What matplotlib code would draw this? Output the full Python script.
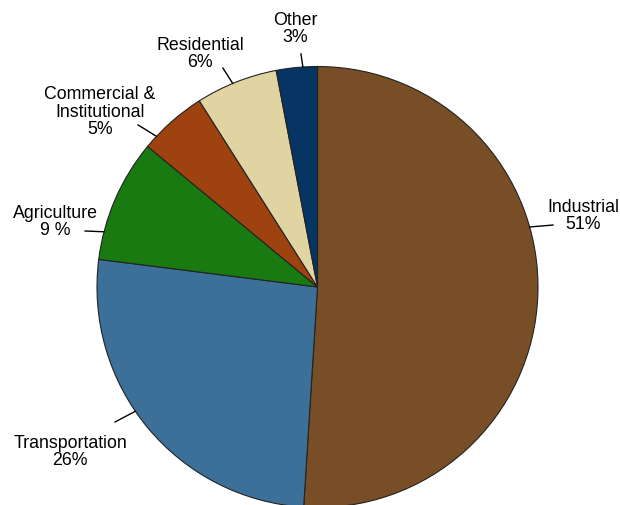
import numpy as np
import matplotlib.pyplot as plt

plt.rcParams['font.family'] = ['Liberation Sans', 'DejaVu Sans']

# share of energy use by sector
sectors = ['Industrial', 'Transportation', 'Agriculture',
           'Commercial &\nInstitutional', 'Residential', 'Other']
shares = [51, 26, 9, 5, 6, 3]
pct_text = ['51%', '26%', '9 %', '5%', '6%', '3%']
colors = ['#774E25', '#3D7099', '#1A7A12', '#9E420F', '#E0D5A2', '#063563']

# label centres, leader start angle on the rim (deg) and leader end point
label_pos = [(1.204, 0.327), (-1.122, -0.744), (-1.190, 0.299),
             (-0.986, 0.798), (-0.533, 1.061), (-0.102, 1.175)]
leader_ang = [15.8, 214.3, 165.5, 136.9, 112.6, 93.8]
leader_end = [(1.068, 0.281), (-0.918, -0.612), (-1.054, 0.254),
              (-0.814, 0.735), (-0.429, 0.993), (-0.075, 1.057)]

fig = plt.figure(figsize=(6.2, 5.06), dpi=100)
ax = fig.add_axes([0, 0, 1, 1])

ax.pie(shares, colors=colors, startangle=90, counterclock=False,
       radius=1.0, center=(0, 0), frame=True,
       wedgeprops=dict(edgecolor='#222222', linewidth=0.8))

for name, pct, (tx, ty), ang, (ex, ey) in zip(sectors, pct_text, label_pos,
                                               leader_ang, leader_end):
    a = np.deg2rad(ang)
    ax.plot([np.cos(a), ex], [np.sin(a), ey], color='black', lw=1.0)
    ax.text(tx, ty, name + '\n' + pct, ha='center', va='center',
            fontsize=12.8, linespacing=1.05, color='black')

ax.set_xlim(-317.5 / 220.5, 302.5 / 220.5)
ax.set_ylim(-218 / 220.5, 288 / 220.5)
ax.set_aspect('auto')
ax.axis('off')

fig.savefig('out.png', dpi=100)
